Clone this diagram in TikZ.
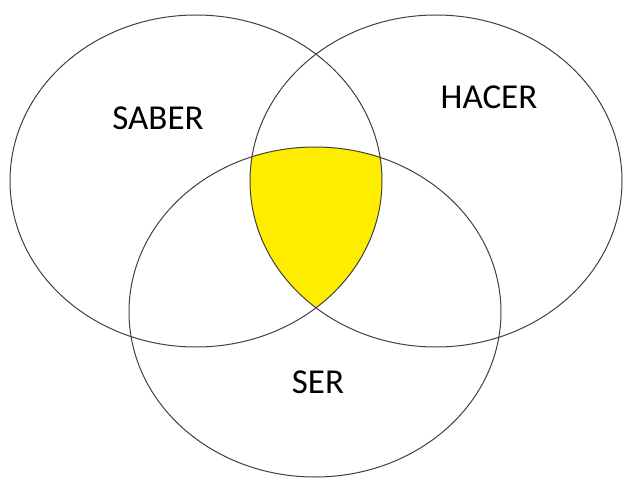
\documentclass[tikz,border=0pt]{standalone}
\usepackage{fontspec}
\setmainfont{Carlito}
\definecolor{amarillo}{RGB}{255,237,0}
\definecolor{borde}{RGB}{64,64,64}
\begin{document}
\begin{tikzpicture}[x=1pt, y=-1pt]
        \useasboundingbox (0,0) rectangle (623,478);
        % Zona comun a los tres conjuntos
        \begin{scope}
            \clip (196,181) ellipse [x radius=186pt, y radius=166pt];
            \clip (436,181) ellipse [x radius=186pt, y radius=166pt];
            \fill[amarillo] (315,312) ellipse [x radius=186pt, y radius=165pt];
        \end{scope}
        % Conjuntos
        \draw[borde, line width=1pt] (196,181) ellipse [x radius=186pt, y radius=166pt];
        \draw[borde, line width=1pt] (436,181) ellipse [x radius=186pt, y radius=166pt];
        \draw[borde, line width=1pt] (315,312) ellipse [x radius=186pt, y radius=165pt];
        % Etiquetas
        \node[font=\fontsize{35}{40}\selectfont] (saber) at (158,118) {SABER};
        \node[font=\fontsize{35}{40}\selectfont] (hacer) at (489,97) {HACER};
        \node[font=\fontsize{35}{40}\selectfont] (ser) at (318,382) {SER};
    \end{tikzpicture}
\end{document}
